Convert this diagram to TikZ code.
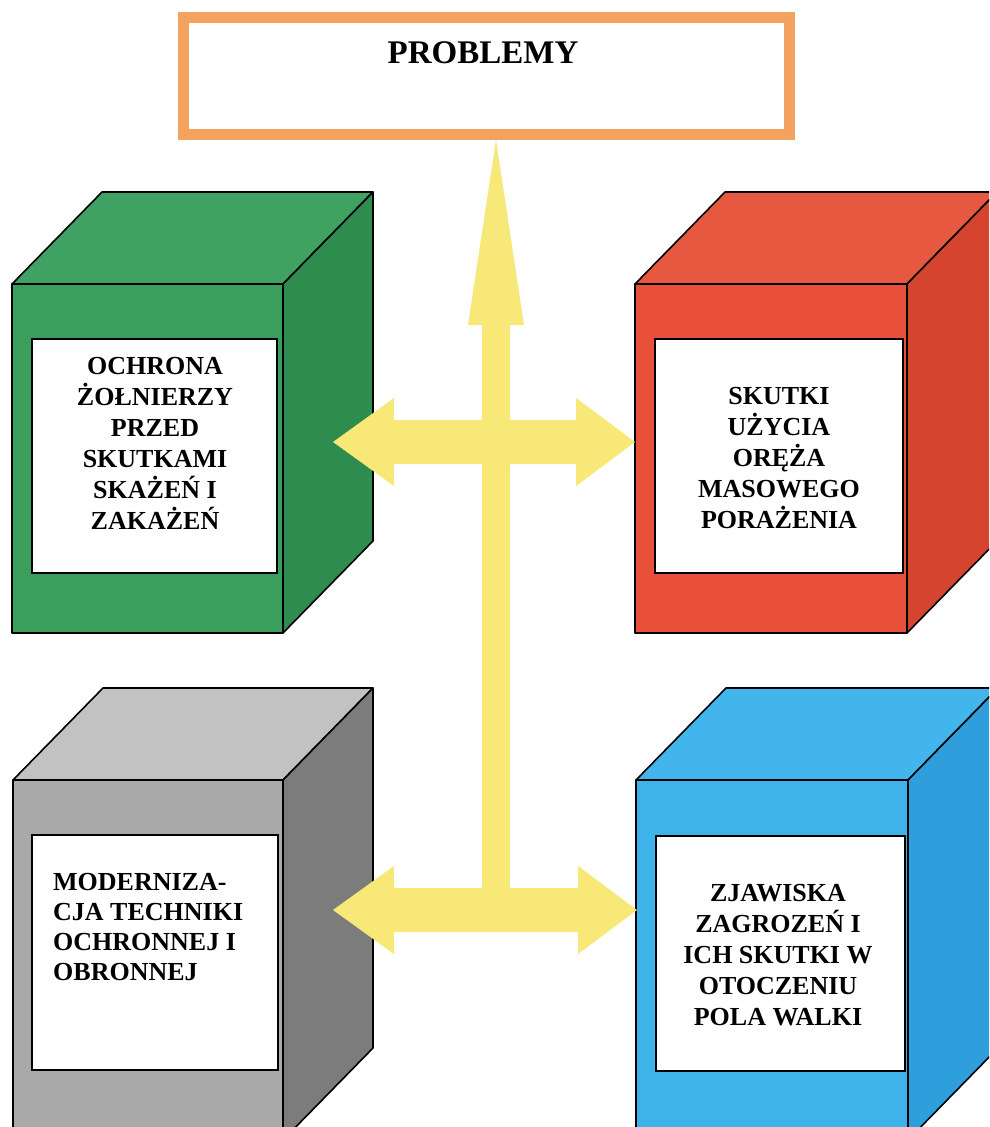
\documentclass[tikz,border=0pt]{standalone}
\usepackage{fontspec}
\setmainfont{Liberation Serif}
\usetikzlibrary{calc}

% palette
\definecolor{frameorange}{HTML}{F3A35F}
\definecolor{flowyellow}{HTML}{F7E878}
\definecolor{greenfront}{HTML}{3A9E5C}
\definecolor{greentop}{HTML}{3FA262}
\definecolor{greenside}{HTML}{2E8C4F}
\definecolor{redfront}{HTML}{E8503A}
\definecolor{redtop}{HTML}{E6583F}
\definecolor{redside}{HTML}{D5442F}
\definecolor{grayfront}{HTML}{A9A9A9}
\definecolor{graytop}{HTML}{C2C2C2}
\definecolor{grayside}{HTML}{7C7C7C}
\definecolor{bluefront}{HTML}{3DB3EA}
\definecolor{bluetop}{HTML}{42B6EC}
\definecolor{blueside}{HTML}{2F9EDD}

\tikzset{
  edge/.style={draw=black, line width=1.6pt, line join=round},
  panel/.style={draw=black, line width=1.6pt, fill=white, inner sep=0pt, outer sep=0pt, anchor=north west},
  cubetext/.style={font=\bfseries\fontsize{26}{31}\selectfont, align=center, inner sep=0pt},
  flow/.style={fill=flowyellow, draw=none},
}

% depth of the cubes
\newcommand{\cdx}{90}
\newcommand{\cdy}{92}

% cube: #1 name, #2 left, #3 top, #4 right, #5 bottom, #6 colour prefix
\newcommand{\cubebox}[6]{%
  \path[edge, fill=#6top] (#2,#3) -- (#2+\cdx,#3-\cdy) -- (#4+\cdx,#3-\cdy) -- (#4,#3) -- cycle;
  \path[edge, fill=#6side] (#4,#3) -- (#4+\cdx,#3-\cdy) -- (#4+\cdx,#5-\cdy) -- (#4,#5) -- cycle;
  \path[edge, fill=#6front] (#2,#3) rectangle (#4,#5);
  \coordinate (#1-nw) at (#2,#3);
  \coordinate (#1-se) at (#4,#5);
}

% horizontal double block arrow between two tips
\newcommand{\dblarrow}[2]{%
  \fill[flow] (#1) -- ($(#1)+(61,-44)$) -- ($(#1)+(61,-22)$) -- ($(#2)+(-59,-22)$)
    -- ($(#2)+(-59,-44)$) -- (#2) -- ($(#2)+(-59,44)$) -- ($(#2)+(-59,22)$)
    -- ($(#1)+(61,22)$) -- ($(#1)+(61,44)$) -- cycle;
}

\begin{document}
\begin{tikzpicture}[x=1pt, y=-1pt]
  \useasboundingbox (0,0) rectangle (989,1127);
  \fill[white] (0,0) rectangle (989,1127);
  \clip (0,0) rectangle (989,1127);

  % heading frame
  \node[draw=frameorange, line width=11pt, minimum width=606, minimum height=117,
        inner sep=0pt, anchor=north west] (problems) at (178,12) {};
  \node[font=\bfseries\fontsize{33}{38}\selectfont, inner sep=0pt] (ptitle) at (483,53) {PROBLEMY};

  % cubes
  \cubebox{gcube}{12}{284}{283}{633}{green}
  \cubebox{rcube}{635}{284}{907}{633}{red}
  \cubebox{kcube}{13}{780}{283}{1140}{gray}
  \cubebox{bcube}{636}{780}{908}{1140}{blue}

  % white panels on the front faces
  \node[panel, minimum width=245, minimum height=234] (gpanel) at (32,339) {};
  \node[panel, minimum width=248, minimum height=234] (rpanel) at (655,339) {};
  \node[panel, minimum width=246, minimum height=235] (kpanel) at (32,835) {};
  \node[panel, minimum width=249, minimum height=235] (bpanel) at (656,836) {};

  % panel texts
  \node[cubetext] (gtext) at (155,443) {OCHRONA\\ŻOŁNIERZY\\PRZED\\SKUTKAMI\\SKAŻEŃ I\\ZAKAŻEŃ};
  \node[cubetext] (rtext) at (779,458) {SKUTKI\\UŻYCIA\\ORĘŻA\\MASOWEGO\\PORAŻENIA};
  \node[cubetext, align=left, anchor=west, font=\bfseries\fontsize{26}{30}\selectfont] (ktext) at (53,927)
    {MODERNIZA-\\CJA TECHNIKI\\OCHRONNEJ I\\OBRONNEJ};
  \node[cubetext] (btext) at (778,955) {ZJAWISKA\\ZAGROZEŃ I\\ICH SKUTKI W\\OTOCZENIU\\POLA WALKI};

  % block arrows
  \coordinate (up) at (496,140);
  \coordinate (c2) at (496,910);
  \coordinate (l1) at (333,442);
  \coordinate (r1) at (635,442);
  \coordinate (l2) at (333,910);
  \coordinate (r2) at (637,910);

  \fill[flow] ($(c2)+(-14,0)$) -- ($(up)+(-14,185)$) -- ($(up)+(-28,185)$) -- (up)
    -- ($(up)+(28,185)$) -- ($(up)+(14,185)$) -- ($(c2)+(14,0)$) -- cycle;
  \dblarrow{l1}{r1}
  \dblarrow{l2}{r2}
\end{tikzpicture}
\end{document}
